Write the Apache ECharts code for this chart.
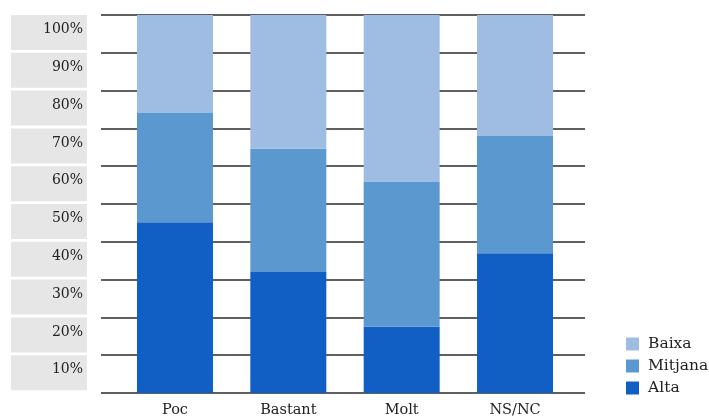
<!DOCTYPE html>
<html>
<head>
<meta charset="utf-8">
<script src="https://cdn.jsdelivr.net/npm/echarts@6/dist/echarts.min.js"></script>
<style>html,body{margin:0;padding:0;background:#fff}#c{width:709px;height:419px}</style>
</head>
<body>
<div id="c"></div>
<script>
const categories = ['Poc', 'Bastant', 'Molt', 'NS/NC'];
const alta = [45.2, 32.0, 17.5, 37.0];
const mitjana = [28.9, 32.6, 38.3, 31.0];
const baixa = [25.9, 35.4, 44.2, 32.0];
const seriesNames = ['Baixa', 'Mitjana', 'Alta'];
const colors = { Baixa: '#9fbde3', Mitjana: '#5b98d0', Alta: '#115fc4' };
const FONT = 'DejaVu Serif';

const chart = echarts.init(document.getElementById('c'));
chart.setOption({
  animation: false,
  textStyle: { fontFamily: FONT },
  grid: [
    { left: 101, right: 124, top: 15, bottom: 26 },
    { left: 118.3, width: 453.4, top: 15, bottom: 26 }
  ],
  xAxis: [
    { gridIndex: 0, type: 'value', show: false, min: 0, max: 1 },
    {
      gridIndex: 1, type: 'category', data: categories,
      axisLine: { show: false }, axisTick: { show: false },
      axisLabel: { margin: 10, fontSize: 14.5, color: '#222', fontFamily: FONT }
    }
  ],
  yAxis: [
    {
      gridIndex: 0, type: 'value', min: 0, max: 100, interval: 10,
      axisLine: { show: false }, axisTick: { show: false },
      splitLine: { show: true, lineStyle: { color: '#2a2a2a', width: 1.7 } },
      axisLabel: {
        showMinLabel: false,
        formatter: '{value}%',
        margin: 14,
        align: 'right',
        verticalAlign: 'top',
        backgroundColor: '#e6e6e6',
        width: 72,
        height: 28,
        padding: [7, 4, 0, 0],
        fontSize: 14,
        lineHeight: 15,
        color: '#222',
        fontFamily: FONT
      }
    },
    { gridIndex: 1, type: 'value', min: 0, max: 100, show: false }
  ],
  legend: {
    orient: 'vertical', left: 621, top: 331,
    data: seriesNames,
    icon: 'rect', itemWidth: 13, itemHeight: 13, itemGap: 6,
    textStyle: { fontSize: 15.5, color: '#222', fontFamily: FONT, padding: [0, 0, 0, 4] }
  },
  series: [
    { name: 'Alta', type: 'bar', stack: 's', xAxisIndex: 1, yAxisIndex: 1, data: alta, barWidth: 76, itemStyle: { color: colors.Alta } },
    { name: 'Mitjana', type: 'bar', stack: 's', xAxisIndex: 1, yAxisIndex: 1, data: mitjana, barWidth: 76, itemStyle: { color: colors.Mitjana } },
    { name: 'Baixa', type: 'bar', stack: 's', xAxisIndex: 1, yAxisIndex: 1, data: baixa, barWidth: 76, itemStyle: { color: colors.Baixa } }
  ]
});
</script>
</body>
</html>
